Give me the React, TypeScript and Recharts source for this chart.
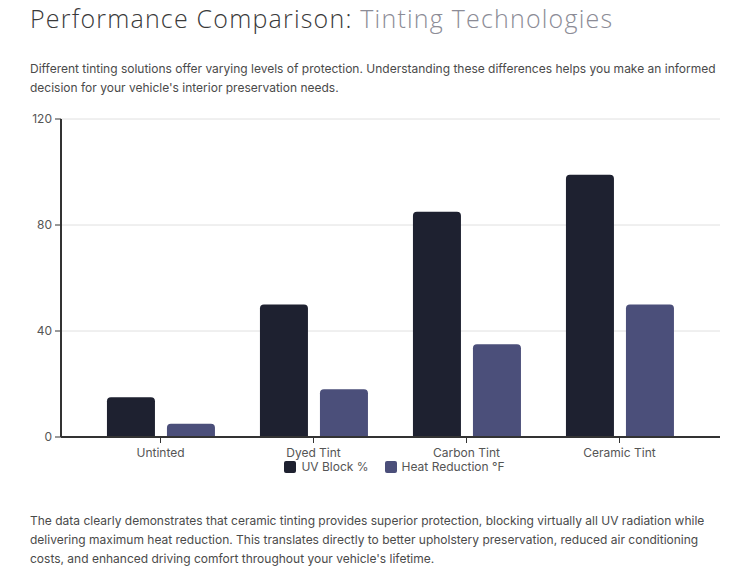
import React from "react";
import { BarChart, Bar, XAxis, YAxis, CartesianGrid, Legend } from "recharts";

const categories = ["Untinted", "Dyed Tint", "Carbon Tint", "Ceramic Tint"];
const uvBlock = [15, 50, 85, 99];
const heatReduction = [5, 18, 35, 50];
const yTicks = [0, 40, 80, 120];

const UV_COLOR = "#1e2130";
const HEAT_COLOR = "#4b4f7a";

const data = categories.map((name, i) => ({
  name,
  uv: uvBlock[i],
  heat: heatReduction[i],
}));

const font = "Inter, 'Noto Sans', sans-serif";

function LegendContent() {
  const items = [
    { label: "UV Block %", color: UV_COLOR },
    { label: "Heat Reduction °F", color: HEAT_COLOR },
  ];
  return (
    <div style={{ display: "flex", justifyContent: "center", gap: 16, fontFamily: font, fontSize: 12, color: "#555" }}>
      {items.map((it) => (
        <div key={it.label} style={{ display: "flex", alignItems: "center", gap: 5 }}>
          <span style={{ width: 12, height: 12, background: it.color, borderRadius: 2, display: "inline-block" }} />
          <span>{it.label}</span>
        </div>
      ))}
    </div>
  );
}

export default function App() {
  return (
    <div style={{ position: "absolute", left: 0, top: 0, width: 751, height: 572, background: "#fff", fontFamily: font }}>
      <div style={{ position: "absolute", left: 30, top: 1, fontSize: 25, fontWeight: 300, color: "#3a3a3a", whiteSpace: "nowrap", fontFamily: "'Open Sans', sans-serif", letterSpacing: 1.2 }}>
        Performance Comparison: <span style={{ color: "#8c8c96" }}>Tinting Technologies</span>
      </div>
      <div style={{ position: "absolute", left: 30, top: 59, width: 690, fontSize: 12, lineHeight: "19px", color: "#4a4a4a" }}>
        Different tinting solutions offer varying levels of protection. Understanding these differences helps you make an informed decision for your vehicle's interior preservation needs.
      </div>
      <div style={{ position: "absolute", left: 0, top: 109 }}>
        <BarChart
          width={751}
          height={370}
          data={data}
          margin={{ top: 10, right: 31, bottom: 0, left: 0 }}
          barCategoryGap="15%"
          barGap={12}
        >
          <CartesianGrid vertical={false} stroke="#e0e0e0" />
          <XAxis
            dataKey="name"
            padding={{ left: 23, right: 24 }}
            axisLine={{ stroke: "#333", strokeWidth: 2 }}
            tickLine={{ stroke: "#333" }}
            tick={{ fill: "#555", fontSize: 12, fontFamily: font }}
            tickSize={6}
            tickMargin={5}
            height={22}
            interval={0}
          />
          <YAxis
            domain={[0, 120]}
            ticks={yTicks}
            width={61}
            axisLine={{ stroke: "#333", strokeWidth: 2 }}
            tickLine={{ stroke: "#333" }}
            tick={{ fill: "#555", fontSize: 12, fontFamily: font }}
            tickSize={6}
            tickMargin={3}
          />
          <Legend
            verticalAlign="bottom"
            content={<LegendContent />}
            height={20}
            wrapperStyle={{ left: 65, width: 659, marginTop: -1 }}
          />
          <Bar dataKey="uv" name="UV Block %" fill={UV_COLOR} radius={[4, 4, 0, 0]} isAnimationActive={false} />
          <Bar dataKey="heat" name="Heat Reduction °F" fill={HEAT_COLOR} radius={[4, 4, 0, 0]} isAnimationActive={false} />
        </BarChart>
      </div>
      <div style={{ position: "absolute", left: 30, top: 511, width: 690, fontSize: 12, lineHeight: "19px", color: "#4a4a4a" }}>
        The data clearly demonstrates that ceramic tinting provides superior protection, blocking virtually all UV radiation while delivering maximum heat reduction. This translates directly to better upholstery preservation, reduced air conditioning costs, and enhanced driving comfort throughout your vehicle's lifetime.
      </div>
    </div>
  );
}
